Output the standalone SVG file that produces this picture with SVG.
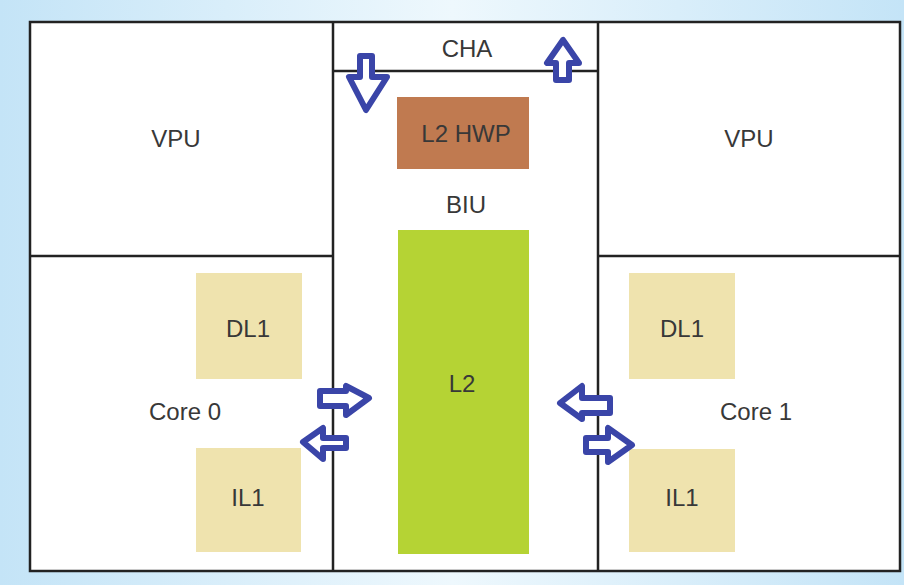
<svg xmlns="http://www.w3.org/2000/svg" width="904" height="585" viewBox="0 0 904 585">
<defs>
<linearGradient id="bg" x1="0" y1="0" x2="1" y2="0">
<stop offset="0" stop-color="#c4e4f7"/>
<stop offset="0.5" stop-color="#eef8fd"/>
<stop offset="1" stop-color="#c4e4f7"/>
</linearGradient>
<style>
.frame{fill:none;stroke:#222;stroke-width:2.5}
.line{stroke:#222;stroke-width:2.5}
.lbl{font-family:"Liberation Sans",Arial,sans-serif;font-size:24px;fill:#383838;text-anchor:middle}
.l1{fill:#efe3ae}
.arr{fill:#ffffff;stroke:#3a45a8;stroke-width:6;stroke-linejoin:round}
</style>
</defs>
<rect x="0" y="0" width="904" height="585" fill="url(#bg)"/>
<rect x="30" y="22" width="870" height="549" fill="#ffffff"/>

<g id="left-vpu"><text class="lbl" x="176" y="147">VPU</text></g>
<g id="right-vpu"><text class="lbl" x="749" y="147">VPU</text></g>
<g id="cha"><text class="lbl" x="467" y="57">CHA</text></g>
<g id="biu"><text class="lbl" x="466" y="213">BIU</text></g>

<g id="l2hwp">
<rect x="397" y="97" width="132" height="72" fill="#c07a50"/>
<text class="lbl" x="466" y="142">L2 HWP</text>
</g>
<g id="l2">
<rect x="398" y="230" width="131" height="324" fill="#b5d334"/>
<text class="lbl" x="462" y="392">L2</text>
</g>
<g id="core0">
<text class="lbl" x="185" y="420">Core 0</text>
</g>
<g id="dl1-left">
<rect class="l1" x="196" y="273" width="106" height="106"/>
<text class="lbl" x="248" y="337">DL1</text>
</g>
<g id="il1-left">
<rect class="l1" x="196" y="448" width="105" height="104"/>
<text class="lbl" x="248" y="506">IL1</text>
</g>
<g id="core1">
<text class="lbl" x="756" y="420">Core 1</text>
</g>
<g id="dl1-right">
<rect class="l1" x="629" y="273" width="106" height="106"/>
<text class="lbl" x="682" y="337">DL1</text>
</g>
<g id="il1-right">
<rect class="l1" x="629" y="449" width="106" height="103"/>
<text class="lbl" x="682" y="506">IL1</text>
</g>

<g id="frame">
<rect class="frame" x="30" y="22" width="870" height="549"/>
<line class="line" x1="333" y1="22" x2="333" y2="571"/>
<line class="line" x1="598" y1="22" x2="598" y2="571"/>
<line class="line" x1="333" y1="71" x2="598" y2="71"/>
<line class="line" x1="30" y1="256" x2="333" y2="256"/>
<line class="line" x1="598" y1="256" x2="900" y2="256"/>
</g>

<g id="connectors">
<!-- down arrow CHA -> BIU -->
<path class="arr" d="M360,56 H372 V77 H387 L366,110 L349,77 H360 Z"/>
<!-- up arrow BIU -> CHA -->
<path class="arr" d="M556,80 H569 V63 H579 L563,40 L547,63 H556 Z"/>
<!-- core0 -> L2 -->
<path class="arr" d="M320,391 V406 H346 V415 L369,398 L346,386 V391 Z"/>
<!-- L2 -> core0 -->
<path class="arr" d="M346,438 V448 H323 V459 L303,442 L323,428 V438 Z"/>
<!-- core1 -> L2 -->
<path class="arr" d="M610,398 V413 H582 V419 L560,403 L582,386 V398 Z"/>
<!-- L2 -> core1 -->
<path class="arr" d="M586,438 V452 H608 V462 L632,445 L608,428 V438 Z"/>
</g>
</svg>
